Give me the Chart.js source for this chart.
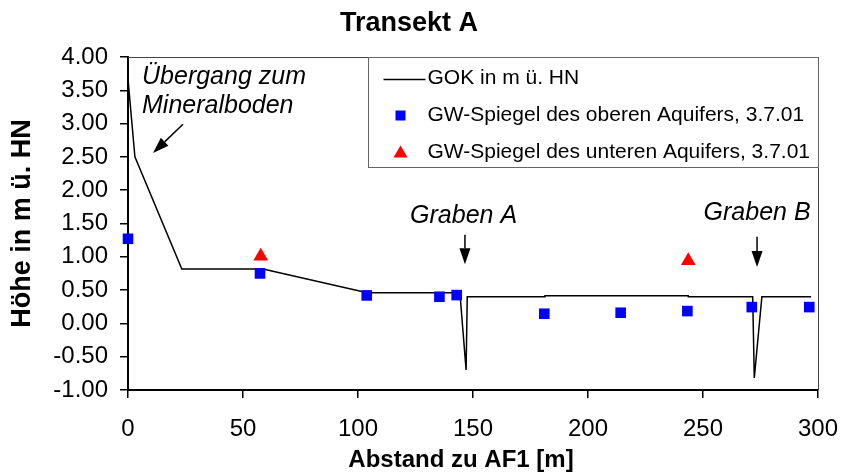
<!DOCTYPE html>
<html>
<head>
<meta charset="utf-8">
<script src="https://cdn.jsdelivr.net/npm/chart.js@4/dist/chart.umd.min.js"></script>
<style>
  html, body { margin: 0; padding: 0; background: #fff; }
  #wrap { width: 842px; height: 474px; }
</style>
</head>
<body>
<div id="wrap"><canvas id="c" width="842" height="474"></canvas></div>
<script>
// Ground surface profile (GOK) along the transect
const gokX = [0, 3, 23.4, 58.7, 104, 144.3, 147, 147.5, 181.3, 181.3, 243.6, 243.6, 271.6, 272.3, 275.6, 297];
const gokY = [3.67, 2.50, 0.815, 0.815, 0.46, 0.46, -0.70, 0.40, 0.40, 0.415, 0.415, 0.40, 0.40, -0.82, 0.40, 0.40];

// Groundwater level, upper aquifer (3.7.01)
const upperX = [0, 57.4, 103.8, 135.4, 142.9, 181, 214.2, 243.2, 271.2, 296.2];
const upperY = [1.27, 0.75, 0.42, 0.40, 0.425, 0.145, 0.16, 0.185, 0.245, 0.245];

// Groundwater level, lower aquifer (3.7.01)
const lowerX = [57.7, 243.6];
const lowerY = [1.01, 0.94];

// Axis ticks
const xTicks = [0, 50, 100, 150, 200, 250, 300];
const yTicks = [-1, -0.5, 0, 0.5, 1, 1.5, 2, 2.5, 3, 3.5, 4];

const seriesNames = [
  'GOK in m ü. HN',
  'GW-Spiegel des oberen Aquifers, 3.7.01',
  'GW-Spiegel des unteren Aquifers, 3.7.01'
];

const FONT = "'Liberation Sans', Arial, sans-serif";

const toPoints = (xs, ys) => xs.map((x, i) => ({ x: x, y: ys[i] }));

// Text labels with arrows, placed in data units
const notes = [
  { text: 'Übergang zum', x: 6.1, y: 3.70, align: 'left' },
  { text: 'Mineralboden', x: 6.1, y: 3.26, align: 'left' },
  { text: 'Graben A', x: 145.9, y: 1.61, align: 'center' },
  { text: 'Graben B', x: 273.5, y: 1.66, align: 'center' }
];
const arrows = [
  { x1: 23.9, y1: 2.99, x2: 10.9, y2: 2.56 },
  { x1: 146.5, y1: 1.33, x2: 146.5, y2: 0.89 },
  { x1: 273.5, y1: 1.30, x2: 273.5, y2: 0.845 }
];

function drawArrow(ctx, x1, y1, x2, y2) {
  const ang = Math.atan2(y2 - y1, x2 - x1);
  const headLen = 16, headHalf = 5.5;
  const bx = x2 - Math.cos(ang) * headLen, by = y2 - Math.sin(ang) * headLen;
  ctx.beginPath();
  ctx.moveTo(x1, y1);
  ctx.lineTo(bx, by);
  ctx.stroke();
  ctx.beginPath();
  ctx.moveTo(x2, y2);
  ctx.lineTo(bx + Math.sin(ang) * headHalf, by - Math.cos(ang) * headHalf);
  ctx.lineTo(bx - Math.sin(ang) * headHalf, by + Math.cos(ang) * headHalf);
  ctx.closePath();
  ctx.fill();
}

const decorations = {
  id: 'decorations',
  afterDraw(chart) {
    const ctx = chart.ctx;
    const a = chart.chartArea;
    const xs = chart.scales.x, ys = chart.scales.y;
    ctx.save();

    // frame on top and right
    ctx.strokeStyle = '#444';
    ctx.lineWidth = 1;
    ctx.beginPath();
    ctx.moveTo(a.left, a.top + 0.5);
    ctx.lineTo(a.right + 0.5, a.top + 0.5);
    ctx.lineTo(a.right + 0.5, a.bottom);
    ctx.stroke();

    // annotations
    ctx.fillStyle = '#000';
    ctx.strokeStyle = '#000';
    ctx.lineWidth = 1.5;
    ctx.font = 'italic 25px ' + FONT;
    ctx.textBaseline = 'middle';
    notes.forEach(n => {
      ctx.textAlign = n.align;
      ctx.fillText(n.text, xs.getPixelForValue(n.x), ys.getPixelForValue(n.y));
    });
    arrows.forEach(r => drawArrow(ctx,
      xs.getPixelForValue(r.x1), ys.getPixelForValue(r.y1),
      xs.getPixelForValue(r.x2), ys.getPixelForValue(r.y2)));

    // legend box
    const bw = 450, bh = 110;
    const bx = Math.round(a.right - bw) + 0.5, by = Math.round(a.top) + 0.5;
    ctx.fillStyle = '#fff';
    ctx.fillRect(bx, by, bw, bh);
    ctx.strokeStyle = '#666';
    ctx.lineWidth = 1;
    ctx.strokeRect(bx, by, bw, bh);

    const rows = [21, 58, 95];
    const ds = chart.data.datasets;
    ctx.font = '21px ' + FONT;
    ctx.textAlign = 'left';
    ctx.textBaseline = 'middle';
    // line sample
    ctx.strokeStyle = ds[0].borderColor;
    ctx.lineWidth = 1.5;
    ctx.beginPath();
    ctx.moveTo(bx + 15, by + rows[0] + 1);
    ctx.lineTo(bx + 57, by + rows[0] + 1);
    ctx.stroke();
    // marker samples
    ctx.fillStyle = ds[1].backgroundColor;
    ctx.fillRect(bx + 27, by + rows[1] - 5, 10, 10);
    ctx.fillStyle = ds[2].backgroundColor;
    ctx.beginPath();
    ctx.moveTo(bx + 32, by + rows[2] - 7);
    ctx.lineTo(bx + 39, by + rows[2] + 5);
    ctx.lineTo(bx + 25, by + rows[2] + 5);
    ctx.closePath();
    ctx.fill();
    ctx.fillStyle = '#000';
    ds.forEach((d, i) => ctx.fillText(d.label, bx + 59, by + rows[i]));

    // x-axis title
    ctx.font = 'bold 24px ' + FONT;
    ctx.textAlign = 'center';
    ctx.fillText('Abstand zu AF1 [m]', a.left + 333, 460);

    ctx.restore();
  }
};

new Chart(document.getElementById('c'), {
  type: 'scatter',
  data: {
    datasets: [
      {
        label: seriesNames[0],
        type: 'line',
        data: toPoints(gokX, gokY),
        borderColor: '#000',
        borderWidth: 1.5,
        pointRadius: 0,
        fill: false,
        tension: 0,
        clip: false,
        order: 3
      },
      {
        label: seriesNames[1],
        data: toPoints(upperX, upperY),
        backgroundColor: '#0000ff',
        borderColor: '#0000ff',
        borderWidth: 0,
        pointStyle: 'rect',
        pointRadius: 7.5,
        clip: false,
        order: 2
      },
      {
        label: seriesNames[2],
        data: toPoints(lowerX, lowerY),
        backgroundColor: '#ff0000',
        borderColor: '#ff0000',
        borderWidth: 0,
        pointStyle: 'triangle',
        pointRadius: 8.5,
        clip: false,
        order: 1
      }
    ]
  },
  options: {
    responsive: false,
    animation: false,
    devicePixelRatio: 1,
    layout: { padding: { left: 0, right: 24, top: 0, bottom: 0 } },
    plugins: {
      legend: { display: false },
      tooltip: { enabled: false },
      title: {
        display: true,
        text: 'Transekt A',
        color: '#000',
        font: { family: FONT, size: 27, weight: 'bold', lineHeight: 1.2 },
        padding: { top: 7, bottom: 17.6 }
      }
    },
    scales: {
      x: {
        type: 'linear',
        min: 0,
        max: 300,
        afterFit: s => { s.height = 84; s.paddingLeft = 0; s.paddingRight = 0; },
        afterBuildTicks: s => { s.ticks = xTicks.map(v => ({ value: v })); },
        ticks: {
          color: '#000',
          font: { family: FONT, size: 24 },
          padding: 17,
          maxRotation: 0,
          autoSkip: false
        },
        grid: { display: true, drawOnChartArea: false, drawTicks: true, tickLength: 8, color: '#000', lineWidth: 1.5 },
        border: { display: true, color: '#000', width: 2 }
      },
      y: {
        type: 'linear',
        min: -1,
        max: 4,
        afterFit: s => { s.width = 128; s.paddingTop = 0; s.paddingBottom = 0; },
        afterBuildTicks: s => { s.ticks = yTicks.map(v => ({ value: v })); },
        ticks: {
          color: '#000',
          font: { family: FONT, size: 24 },
          padding: 12,
          autoSkip: false,
          callback: v => v.toFixed(2)
        },
        grid: { display: true, drawOnChartArea: false, drawTicks: true, tickLength: 8, color: '#000', lineWidth: 1.5 },
        border: { display: true, color: '#000', width: 2 },
        title: {
          display: true,
          text: 'Höhe in m ü. HN',
          color: '#000',
          font: { family: FONT, size: 27, weight: 'bold', lineHeight: 1.2 },
          padding: { top: 6, bottom: 0 }
        }
      }
    }
  },
  plugins: [decorations]
});
</script>
</body>
</html>
